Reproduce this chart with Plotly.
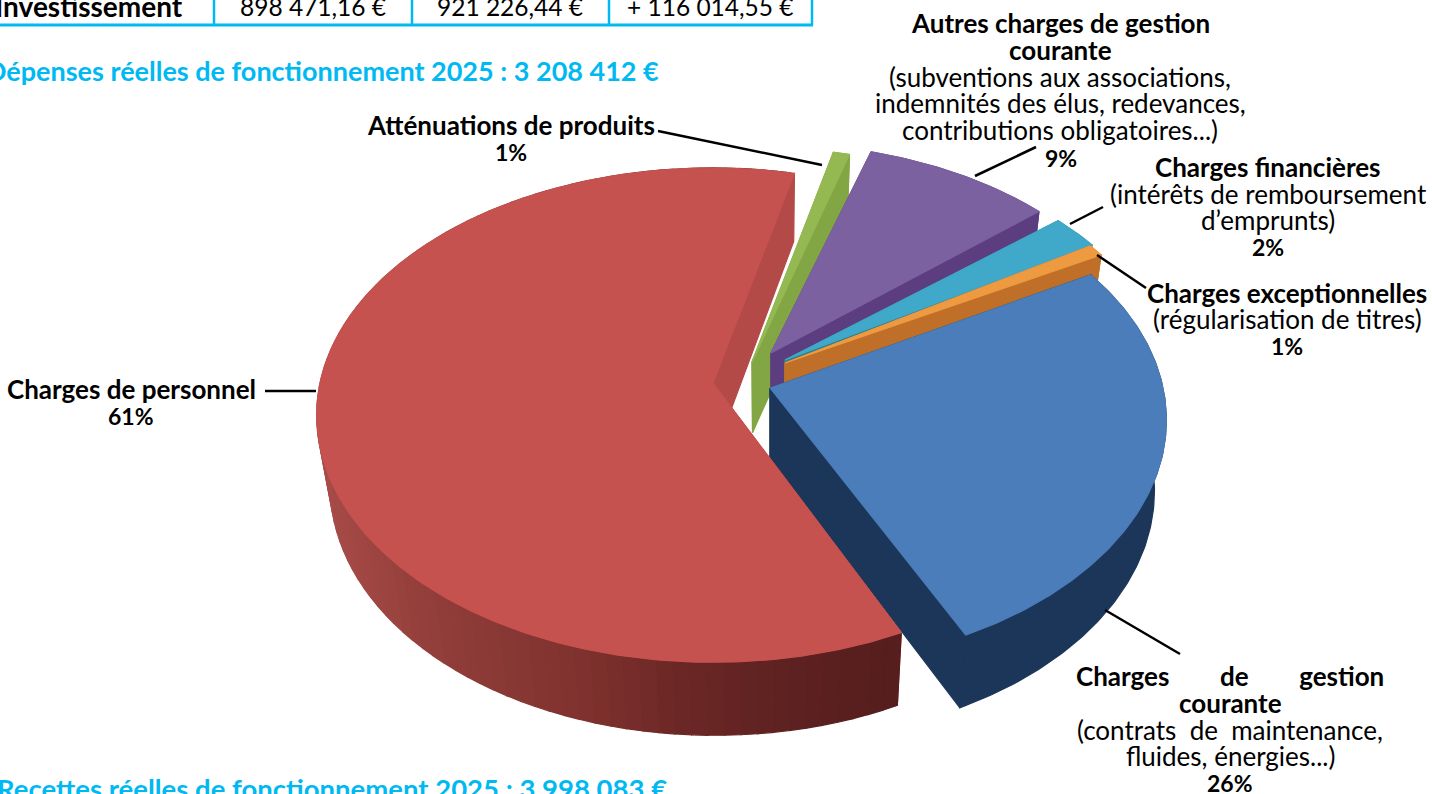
import numpy as np
import plotly.graph_objects as go

# ---------- data ----------
categories = ["Atténuations de produits", "Autres charges de gestion courante", "Charges financières",
              "Charges exceptionnelles", "Charges de gestion courante", "Charges de personnel"]
values = [1, 9, 2, 1, 26, 61]
table_row = ["Investissement", "898 471,16 €", "921 226,44 €", "+ 116 014,55 €"]
title_dep = "Dépenses réelles de fonctionnement 2025 : 3 208 412 €"
title_rec = "Recettes réelles de fonctionnement 2025 : 3 998 083 €"

# ---------- style ----------
START = 76.5
top_col = ["#94b952", "#7c61a1", "#40a8c8", "#ee9a40", "#4a7db9", "#c6524f"]
wall_col = ["#83a644", "#5c3d80", "#2d7f94", "#c06f28", "#1b3658", "#b44a47"]
apex = [(752, 362), (771, 353), (785, 360), (785, 363), (770, 388), (713, 383)]
rad = [1.0, 0.97, 0.973, 0.975, 1.0, 1.0]
span = [0.75, 1.0, 1.15, 0.8, 1.0, 0.995]
shift = [0, 0, -1, -1.5, 0, -1.1]
A, B, C = 393.0, 243.0, 0.13
K, VX = 0.97, 770.0
red_grad = [(317, (168, 76, 73)), (430, (146, 62, 58)), (560, (130, 52, 48)), (680, (108, 40, 38)),
            (800, (92, 33, 32)), (900, (86, 30, 30))]
CYAN, FB, FR = "#00b9f2", "Lato", "Lato"


def top(i, th):
    th = np.radians(np.asarray(th, float))
    X, Y = rad[i] * np.cos(th), rad[i] * np.sin(th)
    w = 1 + C * Y
    return apex[i][0] + A * X / w, apex[i][1] - B * Y / w, Y


def drop(x, y, Y):
    return VX + (x - VX) * K, y + 70.5 - 2.5 * Y


fig = go.Figure()


def poly(xs, ys, col):
    fig.add_trace(go.Scatter(x=xs, y=ys, mode="lines", fill="toself", fillcolor=col,
                             line=dict(color=col, width=1.2), hoverinfo="skip", showlegend=False))


ang = START
for i, v in enumerate(values):
    a0 = ang + shift[i]
    a1 = a0 - v * 3.6 * span[i]
    ang -= v * 3.6
    th = np.linspace(a0, a1, max(8, int(v * 5)))
    x, y, Y = top(i, th)
    bx, by = drop(x, y, Y)
    ax, ay = apex[i]
    adx, ady = drop(ax, ay, 0)
    # hidden radial wall
    poly([ax, x[0], bx[0], adx, ax], [ay, y[0], by[0], ady, ay], wall_col[i])
    # outer side
    if i == len(values) - 1:
        gx = [g[0] for g in red_grad]
        step = 3
        for j in range(0, len(th) - step, step):
            e = j + step
            mx = (x[j] + x[e]) / 2
            rgb = [int(np.interp(mx, gx, [g[1][k] for g in red_grad])) for k in range(3)]
            seg = slice(j, e + 1)
            poly(list(x[seg]) + list(bx[seg][::-1]) + [x[j]], list(y[seg]) + list(by[seg][::-1]) + [y[j]],
                 "rgb(%d,%d,%d)" % tuple(rgb))
    else:
        poly(list(x) + list(bx[::-1]) + [x[0]], list(y) + list(by[::-1]) + [y[0]], wall_col[i])
    # visible radial wall
    poly([ax, x[-1], bx[-1], adx, ax], [ay, y[-1], by[-1], ady, ay], wall_col[i])
    # top surface
    poly([ax] + list(x) + [ax], [ay] + list(y) + [ay], top_col[i])

# leader lines
leaders = [((658, 131), (822, 165)), ((975, 176), (1036, 147)), ((1070, 224), (1103, 207)),
           ((1097, 255), (1146, 288)), ((265, 391), (316, 391)), ((1105, 610), (1180, 654))]
for p, q in leaders:
    fig.add_trace(go.Scatter(x=[p[0], q[0]], y=[p[1], q[1]], mode="lines", line=dict(color="#000", width=2.5),
                             hoverinfo="skip", showlegend=False))

# table lines
for xv in [214, 412, 609, 812]:
    fig.add_shape(type="line", x0=xv, x1=xv, y0=0, y1=25, line=dict(color=CYAN, width=2.5))
fig.add_shape(type="line", x0=0, x1=813, y0=25, y1=25, line=dict(color=CYAN, width=3))


def txt(s, x, y, bold=False, size=26, col="#000", anchor="center"):
    fig.add_annotation(x=x, y=y, text=s, showarrow=False, xanchor=anchor, yanchor="middle",
                       font=dict(family=FB if bold else FR, size=size, color=col, weight=700 if bold else 400),
                       borderpad=0, xref="x", yref="y")


txt(table_row[0], 184, 6, True, 28, anchor="right")
txt(table_row[1], 313, 6, False, 24.5)
txt(table_row[2], 510, 6, False, 24.5)
txt(table_row[3], 710, 6, False, 24.5)
txt(title_dep, 660, 70, True, 27, CYAN, "right")
txt(title_rec, 668, 788, True, 27.5, CYAN, "right")

NB = "\u00a0"
lines = [
    ("Autres charges de gestion", 1060, 23, True), ("courante", 1060, 50, True),
    ("(subventions aux associations,", 1060, 77, False), ("indemnités des élus, redevances,", 1060, 103, False),
    ("contributions obligatoires...)", 1060, 130, False),
    ("Charges financières", 1268, 167, True), ("(intérêts de remboursement", 1268, 194, False),
    ("d’emprunts)", 1268, 220, False),
    ("Charges exceptionnelles", 1287, 293, True), ("(régularisation de titres)", 1287, 319, False),
    ("Atténuations de produits", 511, 125, True),
    ("Charges de personnel", 131, 389, True),
    ("Charges" + NB * 8 + "de" + NB * 8 + "gestion", 1230, 676, True), ("courante", 1230, 703, True),
    ("(contrats" + NB * 2 + "de" + NB * 2 + "maintenance,", 1230, 730, False), ("fluides, énergies...)", 1230, 756, False),
]
for s, x, y, b in lines:
    txt(s, x, y, b)
percent_labels = [("1%", 511, 152), ("9%", 1061, 158), ("2%", 1268, 247), ("1%", 1287, 346), ("26%", 1230, 783), ("61%", 131, 416)]
for s, x, y in percent_labels:
    txt(s, x, y, True, 23)

fig.update_layout(width=1432, height=794, margin=dict(l=0, r=0, t=0, b=0), paper_bgcolor="white",
                  plot_bgcolor="white", showlegend=False,
                  xaxis=dict(range=[0, 1432], visible=False, fixedrange=True),
                  yaxis=dict(range=[794, 0], visible=False, fixedrange=True))
fig.write_html("out.html", config={"displayModeBar": False},
               post_script="document.body.style.margin='0';document.body.style.overflow='hidden';")
